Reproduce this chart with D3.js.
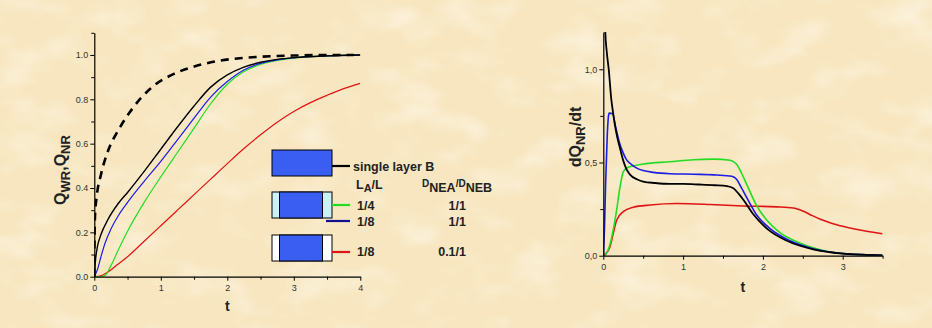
<!DOCTYPE html>
<html>
<head>
<meta charset="utf-8">
<script src="https://cdn.jsdelivr.net/npm/d3@7/dist/d3.min.js"></script>
<style>
  html, body { margin: 0; padding: 0; background: #f8e9c6; }
  svg { display: block; }
  text { font-family: "Liberation Sans", Arial, sans-serif; }
</style>
</head>
<body>
<svg id="fig" width="932" height="328"></svg>
<script>
// ---- Left panel: cumulative release Q(t) ----
const tDash   = [0, 0.002, 0.005, 0.01, 0.04, 0.1, 0.21, 0.36, 0.57, 0.85, 1.2, 1.55, 1.9, 2.3, 2.7, 3.1, 3.5, 3.9];
const qDash   = [0, 0.12, 0.2, 0.27, 0.37, 0.46, 0.57, 0.66, 0.757, 0.85, 0.915, 0.952, 0.975, 0.988, 0.995, 0.998, 1.0, 1.0];

const tSingle = [0, 0.02, 0.05, 0.1, 0.2, 0.36, 0.5, 0.75, 1.0, 1.25, 1.5, 1.75, 2.0, 2.25, 2.5, 2.75, 3.0, 3.5, 4.0];
const qSingle = [0, 0.08, 0.14, 0.19, 0.255, 0.33, 0.38, 0.475, 0.575, 0.675, 0.77, 0.855, 0.91, 0.945, 0.967, 0.98, 0.988, 0.996, 1.0];

const tQ14    = [0, 0.1, 0.16, 0.25, 0.36, 0.5, 0.75, 1.0, 1.25, 1.5, 1.75, 2.0, 2.25, 2.5, 2.75, 3.0, 3.5, 4.0];
const qQ14    = [0, 0.0, 0.005, 0.05, 0.12, 0.205, 0.335, 0.45, 0.56, 0.67, 0.78, 0.868, 0.925, 0.957, 0.975, 0.986, 0.995, 1.0];

const tQ18    = [0, 0.05, 0.1, 0.16, 0.25, 0.36, 0.5, 0.75, 1.0, 1.25, 1.5, 1.75, 2.0, 2.25, 2.5, 2.75, 3.0, 3.5, 4.0];
const qQ18    = [0, 0.035, 0.09, 0.15, 0.215, 0.275, 0.335, 0.43, 0.52, 0.617, 0.715, 0.81, 0.88, 0.932, 0.962, 0.978, 0.987, 0.996, 1.0];

const tQlow   = [0, 0.1, 0.2, 0.35, 0.5, 0.75, 1.0, 1.25, 1.5, 1.75, 2.0, 2.25, 2.5, 2.75, 3.0, 3.25, 3.5, 3.75, 4.0];
const qQlow   = [0, 0.004, 0.02, 0.055, 0.09, 0.16, 0.23, 0.3, 0.37, 0.44, 0.51, 0.578, 0.64, 0.697, 0.745, 0.785, 0.818, 0.848, 0.872];

// ---- Right panel: release rate dQ/dt ----
const tRSingle = [0.012, 0.025, 0.042, 0.068, 0.1, 0.125, 0.15, 0.175, 0.21, 0.25, 0.29, 0.335, 0.42, 0.5, 0.65, 0.835, 1.0, 1.2, 1.4, 1.55, 1.63, 1.7, 1.755, 1.88, 2.05, 2.3, 2.63, 3.0, 3.25, 3.5];
const rSingle  = [1.5, 1.2, 1.1, 1.0, 0.84, 0.76, 0.69, 0.635, 0.575, 0.51, 0.465, 0.435, 0.41, 0.398, 0.39, 0.385, 0.385, 0.382, 0.378, 0.373, 0.362, 0.33, 0.30, 0.222, 0.145, 0.08, 0.034, 0.011, 0.005, 0.002];

const tR14 = [0, 0.01, 0.05, 0.083, 0.125, 0.167, 0.21, 0.25, 0.3, 0.376, 0.5, 0.835, 1.13, 1.38, 1.59, 1.63, 1.67, 1.73, 1.8, 1.92, 2.05, 2.21, 2.47, 2.8, 3.13, 3.5];
const r14  = [0, 0.0, 0.02, 0.06, 0.14, 0.245, 0.37, 0.45, 0.472, 0.482, 0.492, 0.504, 0.515, 0.518, 0.512, 0.505, 0.49, 0.445, 0.38, 0.27, 0.19, 0.125, 0.067, 0.024, 0.007, 0.002];

const tR18 = [0, 0.015, 0.03, 0.05, 0.065, 0.075, 0.117, 0.15, 0.2, 0.25, 0.29, 0.35, 0.42, 0.5, 0.63, 0.835, 1.13, 1.42, 1.61, 1.67, 1.73, 1.8, 1.92, 2.09, 2.34, 2.67, 3.05, 3.5];
const r18  = [0, 0.15, 0.4, 0.65, 0.75, 0.765, 0.762, 0.70, 0.61, 0.55, 0.515, 0.49, 0.47, 0.457, 0.447, 0.44, 0.437, 0.433, 0.426, 0.41, 0.365, 0.31, 0.22, 0.145, 0.08, 0.033, 0.01, 0.002];

const tRlow = [0, 0.03, 0.084, 0.125, 0.167, 0.25, 0.376, 0.585, 0.92, 1.34, 1.755, 2.17, 2.38, 2.5, 2.62, 2.72, 2.85, 3.0, 3.15, 3.3, 3.5];
const rLow  = [0, 0.01, 0.048, 0.12, 0.19, 0.236, 0.26, 0.272, 0.28, 0.275, 0.267, 0.262, 0.256, 0.24, 0.215, 0.196, 0.176, 0.158, 0.143, 0.131, 0.118];

// ---- Axis ticks ----
const leftXTicks  = [0, 1, 2, 3, 4];
const leftXMinor  = [0.5, 1.5, 2.5, 3.5];
const leftYTicks  = [0, 0.2, 0.4, 0.6, 0.8, 1.0];
const leftYMinor  = [0.1, 0.3, 0.5, 0.7, 0.9, 1.1];
const rightXTicks = [0, 1, 2, 3];
const rightXMinor = [0.5, 1.5, 2.5, 3.5];
const rightYTicks = [0, 0.5, 1.0];
const rightYMinor = [0.25, 0.75];

// ---- Legend ----
const legendHeadA = ["L", "A", "/L"];
const legendHeadD = ["D", "NEA", "/D", "NEB"];
const legendRatio = ["1/4", "1/8", "1/8"];
const legendD     = ["1/1", "1/1", "0.1/1"];

const COL = { black: "#000000", green: "#22dd22", blue: "#1c1ce6", red: "#e01414", navy: "#101090" };

const svg = d3.select("#fig");
const zip = (ts, vs) => ts.map((t, i) => [t, vs[i]]);

// parchment background
const defs = svg.append("defs");
const f = defs.append("filter").attr("id", "parch").attr("x", 0).attr("y", 0).attr("width", "100%").attr("height", "100%");
f.append("feTurbulence").attr("type", "fractalNoise").attr("baseFrequency", "0.018 0.03").attr("numOctaves", 3).attr("seed", 7).attr("result", "n");
f.append("feColorMatrix").attr("in", "n").attr("type", "matrix")
  .attr("values", "0 0 0 0 1  0 0 0 0 0.97  0 0 0 0 0.88  1.6 0 0 0 -0.75");
svg.append("rect").attr("width", 932).attr("height", 328).attr("fill", "#f7e6bf");
svg.append("rect").attr("width", 932).attr("height", 328).attr("filter", "url(#parch)").attr("opacity", 0.8);

function panel(cfg) {
  const g = svg.append("g");
  const x = d3.scaleLinear().domain(cfg.xDomain).range(cfg.xRange);
  const y = d3.scaleLinear().domain(cfg.yDomain).range(cfg.yRange);

  const cid = cfg.id + "-clip";
  defs.append("clipPath").attr("id", cid).append("rect")
    .attr("x", cfg.xRange[0]).attr("y", cfg.yRange[1])
    .attr("width", cfg.xRange[1] - cfg.xRange[0]).attr("height", cfg.yRange[0] - cfg.yRange[1]);

  const line = d3.line().x(d => x(d[0])).y(d => y(d[1])).curve(d3.curveMonotoneX);
  const lines = g.append("g").attr("clip-path", `url(#${cid})`);
  cfg.series.forEach(s => {
    lines.append("path").datum(s.data).attr("d", line)
      .attr("fill", "none").attr("stroke", s.color).attr("stroke-width", s.width)
      .attr("stroke-dasharray", s.dash || null).attr("stroke-linejoin", "round");
  });

  const xAxis = d3.axisBottom(x).tickValues(cfg.xTicks).tickSize(4).tickSizeOuter(0).tickPadding(4).tickFormat(d3.format("d"));
  const yAxis = d3.axisLeft(y).tickValues(cfg.yTicks).tickSize(4).tickSizeOuter(0).tickPadding(2).tickFormat(cfg.yFormat);
  g.append("g").attr("transform", `translate(0,${cfg.yRange[0]})`).call(xAxis);
  g.append("g").attr("transform", `translate(${cfg.xRange[0]},0)`).call(yAxis);
  g.append("g").attr("transform", `translate(0,${cfg.yRange[0]})`)
    .call(d3.axisBottom(x).tickValues(cfg.xMinor).tickSize(3).tickSizeOuter(0).tickFormat(""))
    .select(".domain").remove();
  g.append("g").attr("transform", `translate(${cfg.xRange[0]},0)`)
    .call(d3.axisLeft(y).tickValues(cfg.yMinor).tickSize(3).tickSizeOuter(0).tickFormat(""))
    .select(".domain").remove();
  g.selectAll(".domain").attr("stroke", "#000").attr("stroke-width", 1.2);
  g.selectAll(".tick line").attr("stroke", "#000").attr("stroke-width", 1);
  g.selectAll(".tick text").attr("fill", "#333").attr("font-size", 9).attr("font-family", "Liberation Sans, Arial, sans-serif");

  // x title
  g.append("text").attr("x", (cfg.xRange[0] + cfg.xRange[1]) / 2 + cfg.tDx).attr("y", cfg.tY)
    .attr("text-anchor", "middle").attr("font-weight", "bold").attr("font-size", 14).attr("fill", "#222").text("t");

  // y title
  const yt = g.append("text").attr("transform", `translate(${cfg.yTitleX},${cfg.yTitleY}) rotate(-90)`)
    .attr("text-anchor", "middle").attr("font-weight", "bold").attr("font-size", 16).attr("fill", "#222");
  cfg.yTitle.forEach(p => {
    yt.append("tspan").attr("font-size", p.sub ? 13 : 16).attr("baseline-shift", p.sub ? -4 : null).text(p.t);
  });
  return { x, y, g };
}

panel({
  id: "left", xDomain: [0, 4], xRange: [94.3, 360.3], yDomain: [0, 1.1], yRange: [276.7, 32.8],
  xTicks: leftXTicks, xMinor: leftXMinor, yTicks: leftYTicks, yMinor: leftYMinor,
  yFormat: d3.format(".1f"), tY: 311, tDx: 0, yTitleX: 66, yTitleY: 170,
  yTitle: [{ t: "Q" }, { t: "WR", sub: true }, { t: ",Q" }, { t: "NR", sub: true }],
  series: [
    { data: zip(tQlow, qQlow), color: COL.red, width: 1.2 },
    { data: zip(tQ14, qQ14), color: COL.green, width: 1.2 },
    { data: zip(tQ18, qQ18), color: COL.blue, width: 1.2 },
    { data: zip(tSingle, qSingle), color: COL.black, width: 1.4 },
    { data: zip(tDash, qDash), color: COL.black, width: 2.6, dash: "8,6" }
  ]
});

panel({
  id: "right", xDomain: [0, 3.5], xRange: [603.3, 882.6], yDomain: [0, 1.2], yRange: [255.7, 32.0],
  xTicks: rightXTicks, xMinor: rightXMinor, yTicks: rightYTicks, yMinor: rightYMinor,
  yFormat: d => d3.format(".1f")(d).replace(".", ","), tY: 292, tDx: 0, yTitleX: 581, yTitleY: 137,
  yTitle: [{ t: "dQ" }, { t: "NR", sub: true }, { t: "/dt" }],
  series: [
    { data: zip(tRlow, rLow), color: COL.red, width: 1.6 },
    { data: zip(tR14, r14), color: COL.green, width: 1.6 },
    { data: zip(tR18, r18), color: COL.blue, width: 1.6 },
    { data: zip(tRSingle, rSingle), color: COL.black, width: 1.8 }
  ]
});

// ---- legend with layer sketches ----
const lg = svg.append("g").attr("font-weight", "bold").attr("fill", "#222");
const boxBlue = "#3a5ef2";
function sketch(y0, edge) {
  lg.append("rect").attr("x", 272).attr("y", y0).attr("width", 60).attr("height", 26)
    .attr("fill", edge || boxBlue).attr("stroke", "#000").attr("stroke-width", 1);
  if (edge) {
    lg.append("rect").attr("x", 279.5).attr("y", y0).attr("width", 43).attr("height", 26)
      .attr("fill", boxBlue).attr("stroke", "#000").attr("stroke-width", 1);
  }
}
sketch(150, null);
sketch(192, "#c9f1f7");
sketch(235, "#ffffff");

const seg = (x1, x2, yy, c) => lg.append("line").attr("x1", x1).attr("x2", x2).attr("y1", yy).attr("y2", yy)
  .attr("stroke", c).attr("stroke-width", 2.2);
seg(332, 350, 166, COL.black);
seg(332, 350, 205, COL.green);
seg(326, 350, 221, COL.navy);
seg(332, 350, 252, COL.red);

const txt = (x, y, s, anchor) => lg.append("text").attr("x", x).attr("y", y).attr("font-size", 12.5)
  .attr("text-anchor", anchor || "start").attr("fill", "#222").text(s);
txt(353, 171, "single layer B");

const ha = lg.append("text").attr("x", 356).attr("y", 189).attr("font-size", 12.5).attr("fill", "#222");
legendHeadA.forEach((s, i) => ha.append("tspan").attr("baseline-shift", i === 1 ? -3 : null).attr("font-size", i === 1 ? 11 : 12.5).text(s));
const hd = lg.append("text").attr("x", 422).attr("y", 189).attr("font-size", 12.5).attr("fill", "#222");
legendHeadD.forEach((s, i) => hd.append("tspan").attr("baseline-shift", i % 2 === 1 ? -3 : 2).attr("font-size", i % 2 === 1 ? 12.5 : 10).text(s));

const rowY = [209.5, 226, 256];
legendRatio.forEach((s, i) => txt(357, rowY[i], s));
legendD.forEach((s, i) => txt(466, rowY[i], s, "end"));
</script>
</body>
</html>
